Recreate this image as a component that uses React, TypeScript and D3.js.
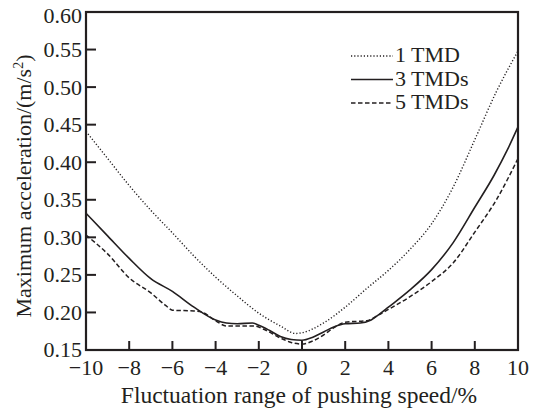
import React from "react";
import * as d3 from "d3";

const xTicks = [-10, -8, -6, -4, -2, 0, 2, 4, 6, 8, 10];
const yTicks = [0.15, 0.2, 0.25, 0.3, 0.35, 0.4, 0.45, 0.5, 0.55, 0.6];

const tmd1X = [-10, -9, -8, -7, -6, -5, -4, -3, -2, -1, -0.3, 0, 1, 2, 3, 4, 5, 6, 7, 8, 9, 10];
const tmd1Y = [0.441, 0.405, 0.369, 0.336, 0.306, 0.275, 0.247, 0.222, 0.199, 0.182, 0.172, 0.173, 0.186, 0.207, 0.232, 0.256, 0.284, 0.318, 0.367, 0.43, 0.494, 0.548];

const tmd3X = [-10, -9, -8, -7, -6, -5, -4, -3.5, -3, -2.3, -2, -1.5, -1, -0.5, 0, 0.5, 1, 1.5, 2, 2.7, 3.2, 3.6, 4, 5, 6, 7, 8, 8.9, 9.5, 10];
const tmd3Y = [0.332, 0.302, 0.272, 0.245, 0.228, 0.207, 0.19, 0.186, 0.185, 0.186, 0.183, 0.176, 0.168, 0.164, 0.163, 0.167, 0.174, 0.181, 0.185, 0.186, 0.19, 0.198, 0.207, 0.23, 0.257, 0.293, 0.34, 0.383, 0.416, 0.447];

const tmd5X = [-10, -9, -8, -7, -6.3, -6, -5, -4.6, -4, -3.5, -2.2, -1.8, -1, -0.5, 0, 0.5, 1, 1.5, 2, 3, 3.5, 4, 5, 6, 7, 8, 9, 10];
const tmd5Y = [0.303, 0.278, 0.246, 0.226, 0.209, 0.203, 0.202, 0.2, 0.189, 0.182, 0.182, 0.178, 0.166, 0.16, 0.158, 0.162, 0.17, 0.18, 0.187, 0.189, 0.196, 0.204, 0.221, 0.241, 0.266, 0.307, 0.35, 0.405];

const seriesNames = ["1 TMD", "3 TMDs", "5 TMDs"];

const W = 543;
const H = 410;
const M = { left: 86, right: 518, top: 12, bottom: 350 };
const FONT = "'Liberation Serif', 'Times New Roman', Times, 'DejaVu Serif', serif";
const INK = "#231f20";

export default function App() {
  const x = d3.scaleLinear().domain([-10, 10]).range([M.left, M.right]);
  const y = d3.scaleLinear().domain([0.15, 0.6]).range([M.bottom, M.top]);
  const line = d3
    .line<[number, number]>()
    .x((d) => x(d[0]))
    .y((d) => y(d[1]))
    .curve(d3.curveMonotoneX);

  const series = [
    { name: seriesNames[0], xs: tmd1X, ys: tmd1Y, dash: "1.2,2", width: 1.4 },
    { name: seriesNames[1], xs: tmd3X, ys: tmd3Y, dash: "none", width: 1.6 },
    { name: seriesNames[2], xs: tmd5X, ys: tmd5Y, dash: "4.5,2.5", width: 1.5 },
  ];

  const legendRows = [56, 79.5, 103];

  return (
    <div style={{ fontFamily: FONT }}>
      <svg
        width={W}
        height={H}
        fontFamily={FONT}
        fontSize={22}
        style={{ display: "block", position: "absolute", left: 0, top: 0, background: "#fff", fontFamily: FONT }}
      >
        <rect x={0} y={0} width={W} height={H} fill="#fff" />
        {series.map((s, i) => (
          <path
            key={i}
            d={line(s.xs.map((v, j) => [v, s.ys[j]] as [number, number])) || ""}
            fill="none"
            stroke={INK}
            strokeWidth={s.width}
            strokeDasharray={s.dash}
          />
        ))}
        <rect
          x={M.left}
          y={M.top}
          width={M.right - M.left}
          height={M.bottom - M.top}
          fill="none"
          stroke={INK}
          strokeWidth={2.2}
        />
        <g fill={INK}>
          {yTicks.map((t) => (
            <g key={"y" + t}>
              {t > 0.15 && t < 0.6 && (
                <line x1={M.left} x2={M.left + 10} y1={y(t)} y2={y(t)} stroke={INK} strokeWidth={2} />
              )}
              <text x={82} y={y(t) + (t === 0.6 ? 11 : t === 0.15 ? 6.5 : 7.5)} textAnchor="end">
                {t.toFixed(2)}
              </text>
            </g>
          ))}
          {xTicks.map((t) => (
            <g key={"x" + t}>
              {t > -10 && t < 10 && (
                <line x1={x(t)} x2={x(t)} y1={M.bottom} y2={M.bottom - 9} stroke={INK} strokeWidth={2} />
              )}
              <text x={x(t)} y={375} textAnchor="middle">
                {t < 0 ? "\u2212" + Math.abs(t) : String(t)}
              </text>
            </g>
          ))}
          <text x={299} y={403} textAnchor="middle" fontSize={23.5}>
            Fluctuation range of pushing speed/%
          </text>
          <text transform={`translate(31,${186}) rotate(-90)`} textAnchor="middle">
            Maximum acceleration/(m/s<tspan dy={-8} fontSize={14}>2</tspan>
            <tspan dy={8}>)</tspan>
          </text>
          {series.map((s, i) => (
            <g key={"l" + i}>
              <line
                x1={351}
                x2={393}
                y1={legendRows[i]}
                y2={legendRows[i]}
                stroke={INK}
                strokeWidth={s.width}
                strokeDasharray={s.dash}
              />
              <text x={395} y={legendRows[i] + 6}>
                {s.name}
              </text>
            </g>
          ))}
        </g>
      </svg>
    </div>
  );
}
